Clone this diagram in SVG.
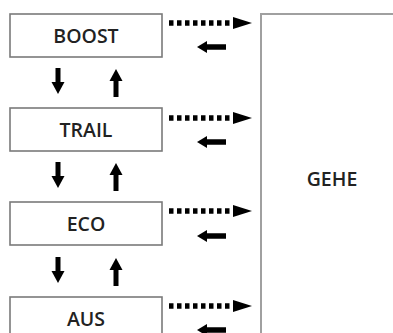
<svg xmlns="http://www.w3.org/2000/svg" width="393" height="333" viewBox="0 0 393 333">
<style>
.box{fill:#fff;stroke:#7a7a7a;stroke-width:1.6}
.big{fill:#fff;stroke:#a0a0a0;stroke-width:2}
.lbl{font-family:"Open Sans","Liberation Sans",sans-serif;font-weight:600;font-size:19.5px;fill:#222;text-anchor:middle}
.dot{stroke:#000;stroke-width:5.5;stroke-dasharray:4.5 3.5;fill:none;marker-end:url(#hd)}
.sol{stroke:#000;stroke-width:5.5;fill:none;marker-end:url(#hs)}
.vert{stroke:#000;stroke-width:5;fill:none;marker-end:url(#hv)}
</style>
<defs>
<marker id="hd" markerUnits="userSpaceOnUse" markerWidth="20" markerHeight="13" viewBox="0 -6.5 20 13" refX="0" refY="0" orient="auto" overflow="visible"><path d="M0,-6 L19,0 L0,6 Z" fill="#000"/></marker>
<marker id="hs" markerUnits="userSpaceOnUse" markerWidth="12" markerHeight="13" viewBox="0 -6.5 12 13" refX="0" refY="0" orient="auto" overflow="visible"><path d="M0,-6 L10,0 L0,6 Z" fill="#000"/></marker>
<marker id="hv" markerUnits="userSpaceOnUse" markerWidth="14" markerHeight="14" viewBox="0 -7 14 14" refX="0" refY="0" orient="auto" overflow="visible"><path d="M0,-6.5 L12,0 L0,6.5 Z" fill="#000"/></marker>
</defs>
<g id="gehe">
<rect class="big" x="261" y="14" width="150" height="340"/>
<text class="lbl" x="332" y="186">GEHE</text>
</g>
<g id="boost">
<rect class="box" x="10" y="14" width="152" height="43"/>
<text class="lbl" x="86" y="42.5">BOOST</text>
</g>
<g id="trail">
<rect class="box" x="10" y="108" width="152" height="43"/>
<text class="lbl" x="86" y="136.5">TRAIL</text>
</g>
<g id="eco">
<rect class="box" x="10" y="202" width="152" height="43"/>
<text class="lbl" x="86" y="230.5">ECO</text>
</g>
<g id="aus">
<rect class="box" x="10" y="297" width="152" height="43"/>
<text class="lbl" x="86" y="325.5">AUS</text>
</g>
<g id="connectors">
<line class="dot" x1="169" y1="23" x2="233" y2="23"/>
<line class="sol" x1="226" y1="47" x2="207" y2="47"/>
<line class="dot" x1="169" y1="118" x2="233" y2="118"/>
<line class="sol" x1="226" y1="142" x2="207" y2="142"/>
<line class="dot" x1="169" y1="211" x2="233" y2="211"/>
<line class="sol" x1="226" y1="236" x2="207" y2="236"/>
<line class="dot" x1="169" y1="306" x2="233" y2="306"/>
<line class="sol" x1="226" y1="330" x2="207" y2="330"/>
<line class="vert" x1="58" y1="68" x2="58" y2="82"/>
<line class="vert" x1="116" y1="97" x2="116" y2="81"/>
<line class="vert" x1="58" y1="162" x2="58" y2="176"/>
<line class="vert" x1="116" y1="191" x2="116" y2="175"/>
<line class="vert" x1="58" y1="257" x2="58" y2="271"/>
<line class="vert" x1="116" y1="286" x2="116" y2="270"/>
</g>
</svg>
